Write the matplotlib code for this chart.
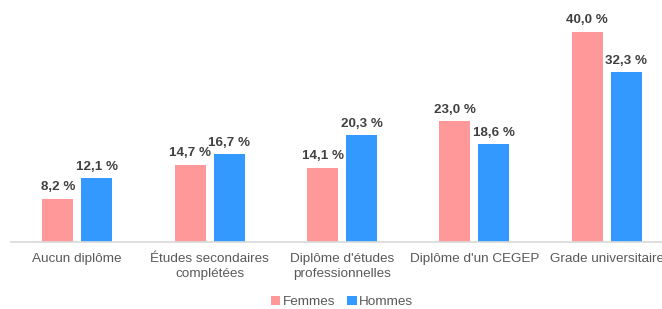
import matplotlib
matplotlib.use("Agg")
import matplotlib.pyplot as plt
import numpy as np

categories = ["Aucun diplôme", "Études secondaires\ncomplétées", "Diplôme d'études\nprofessionnelles",
              "Diplôme d'un CEGEP", "Grade universitaire"]
femmes = [8.2, 14.7, 14.1, 23.0, 40.0]
hommes = [12.1, 16.7, 20.3, 18.6, 32.3]
series_names = ["Femmes", "Hommes"]
colors = ["#FF9999", "#3399FF"]

plt.rcParams['font.family'] = ['Liberation Sans', 'DejaVu Sans']

fig = plt.figure(figsize=(6.62, 3.09), dpi=100)
# axes extends beyond right edge (chart is clipped in reference)
ax = fig.add_axes([11/662, 67/309, 662/662, 242/309])

x = np.arange(len(categories))
w = 0.234
off = 0.147
b1 = ax.bar(x - off, femmes, w, color=colors[0], label=series_names[0])
b2 = ax.bar(x + off, hommes, w, color=colors[1], label=series_names[1])

def fmt(v):
    return f"{v:.1f}".replace(".", ",") + " %"

for bars, vals in ((b1, femmes), (b2, hommes)):
    for r, v in zip(bars, vals):
        ax.annotate(fmt(v), (r.get_x() + r.get_width() / 2, v), xytext=(0, 4),
                    textcoords="offset points", ha="center", va="bottom",
                    fontsize=9.6, fontweight="bold", color="#404040")

ax.set_xlim(-0.5, len(categories) - 0.5)
ax.set_ylim(0, 46.1)
ax.set_xticks(x)
ax.set_xticklabels(categories, fontsize=9.7, color="#595959", linespacing=1.35)
ax.tick_params(axis="x", length=0, pad=8)
ax.set_yticks([])
for s in ["top", "right", "left"]:
    ax.spines[s].set_visible(False)
ax.spines["bottom"].set_color("#D9D9D9")
ax.spines["bottom"].set_linewidth(1.2)
ax.patch.set_alpha(0)

fig.legend(handles=[b1, b2], labels=series_names, loc="center", bbox_to_anchor=(342/662, 1 - 302/309),
           ncol=2, frameon=False, fontsize=9.7, handlelength=0.7, handleheight=0.7,
           handletextpad=0.2, columnspacing=0.9, labelcolor="#595959")

fig.savefig("out.png", dpi=100)
